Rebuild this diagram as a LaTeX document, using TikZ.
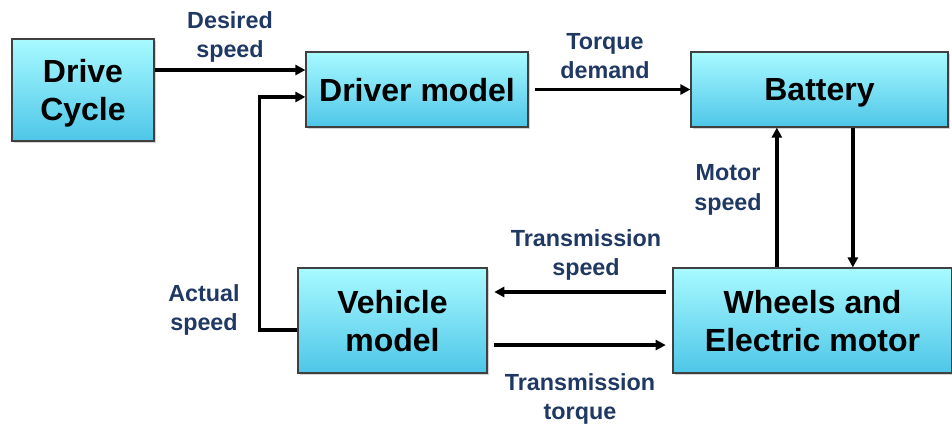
\documentclass[tikz,border=0pt]{standalone}
\usepackage{fontspec}
\setmainfont{Liberation Sans}
\usepackage{xcolor}
\usetikzlibrary{arrows.meta, shadows, calc, positioning}

\definecolor{boxTop}{RGB}{168,250,255}
\definecolor{boxBottom}{RGB}{78,198,232}
\definecolor{boxLine}{RGB}{64,64,64}
\definecolor{labelBlue}{RGB}{31,56,100}

\tikzset{
	block/.style = {draw = boxLine, line width = 0.9pt, top color = boxTop, bottom color = boxBottom,
		drop shadow = {shadow xshift = 1.5pt, shadow yshift = -1.5pt, opacity = 0.35},
		align = center, font = \fontsize{24}{28.5}\selectfont\bfseries, inner sep = 0pt, text depth = 0pt},
	flow/.style = {line width = 2.6pt, -{Triangle[length = 7.5pt, width = 7.5pt]}},
	signal/.style = {align = center, text = labelBlue, font = \fontsize{17.5}{22}\selectfont\bfseries, inner sep = 0pt}
}

\begin{document}
\begin{tikzpicture}[x = 0.75pt, y = -0.75pt]
		\useasboundingbox (0, 0) rectangle (952, 426);

		% blocks
		\node [block, minimum width = 106.5pt, minimum height = 76.5pt] (cycle) at (83, 90) {Drive\\Cycle};
		\node [block, minimum width = 166.5pt, minimum height = 56.25pt] (driver) at (417, 89.5) {Driver model};
		\node [block, minimum width = 192.75pt, minimum height = 56.25pt] (battery) at (819.5, 89.5) {Battery};
		\node [block, minimum width = 141.75pt, minimum height = 78.75pt] (vehicle) at (392.5, 320.5) {Vehicle\\model};
		\node [block, minimum width = 209.25pt, minimum height = 78.75pt] (wheels) at (812.5, 320.5) {Wheels and\\Electric motor};

		% connectors
		\draw [flow] ([yshift = 15pt]cycle.east) -- ([yshift = 15pt]cycle.east -| driver.west);
		\draw [flow] ([yshift = -7pt]vehicle.west) -- ++(-28.5pt, 0) |- ([yshift = -5.6pt]driver.west);
		\draw [flow, shorten <= 4.5pt] (driver.east) -- (battery.west);
		\draw [flow] ([xshift = 25pt]battery.south) -- ([xshift = 25pt]battery.south |- wheels.north);
		\draw [flow] ([xshift = -32pt]battery.south |- wheels.north) -- ([xshift = -32pt]battery.south);
		\draw [flow, shorten <= 5pt, shorten >= 5pt] ([yshift = 21.4pt]wheels.west) -- ([yshift = 21.4pt]vehicle.east);
		\draw [flow, shorten <= 5pt, shorten >= 5pt] ([yshift = -18.4pt]vehicle.east) -- ([yshift = -18.4pt]wheels.west);

		% signal names
		\node [signal] (desired) at (230, 37) {Desired\\speed};
		\node [signal] (torque) at (605, 56) {Torque\\demand};
		\node [signal] (motor) at (728, 190) {Motor\\speed};
		\node [signal] (trspeed) at (586, 255) {Transmission\\speed};
		\node [signal] (actual) at (204, 310) {Actual\\speed};
		\node [signal] (trtorque) at (580, 399) {Transmission\\torque};
	\end{tikzpicture}
\end{document}
